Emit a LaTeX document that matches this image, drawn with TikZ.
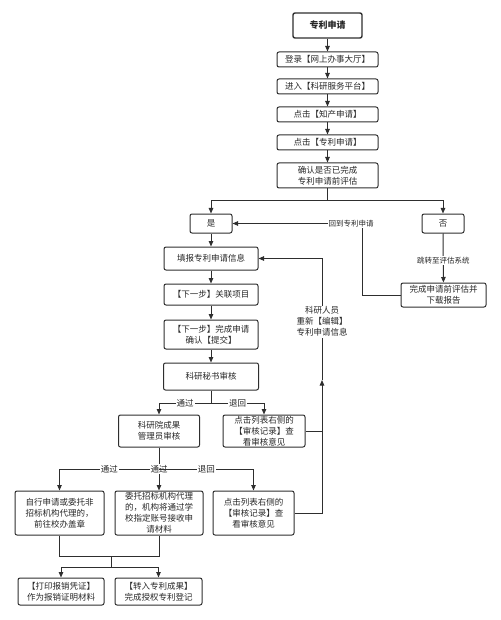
\documentclass[tikz,border=0pt]{standalone}
\usepackage{fontspec}
\setmainfont{Noto Sans CJK SC}
\usetikzlibrary{arrows.meta}

\tikzset{
	box/.style={draw=black!82, rounded corners=2pt, line width=1pt, text=black!85, align=center, inner sep=0pt, font=\fontsize{8.5}{11}\selectfont},
	tag/.style={fill=white, text=black!85, inner sep=1pt, font=\fontsize{7.5}{9}\selectfont},
	pass/.style={tag, font=\fontsize{8.5}{10}\selectfont},
	line/.style={draw=black!82, line width=1pt},
	flow/.style={line, -{Triangle[length=5.5pt, width=4.5pt]}},
}

\begin{document}
\begin{tikzpicture}[x=1pt, y=-1pt]
	\useasboundingbox (0,0) rectangle (500,620);
	\node (start) at (327.5,25.5) [box, line width=1.4pt, minimum width=69pt, minimum height=25pt, font=\fontsize{9}{11}\selectfont\bfseries] {专利申请};
	\node (login) at (327.5,59.5) [box, minimum width=101pt, minimum height=15pt] {登录【网上办事大厅】};
	\node (platform) at (327.5,86.5) [box, minimum width=101pt, minimum height=15pt] {进入【科研服务平台】};
	\node (ip) at (327.5,114.5) [box, minimum width=101pt, minimum height=15pt] {点击【知产申请】};
	\node (patent) at (327.5,142.5) [box, minimum width=101pt, minimum height=15pt] {点击【专利申请】};
	\node (check) at (327.5,175.5) [box, minimum width=101pt, minimum height=25pt] {确认是否已完成\\专利申请前评估};
		\node (yes) at (211,223.5) [box, minimum width=42pt, minimum height=19pt] {是};
		\node (no) at (443,223.5) [box, minimum width=42pt, minimum height=19pt] {否};
		\node (report) at (443.5,295) [box, minimum width=85pt, minimum height=24pt] {完成申请前评估并\\下载报告};
			\node (fill) at (211,258.5) [box, minimum width=94pt, minimum height=23pt] {填报专利申请信息};
			\node (link) at (211,294.5) [box, minimum width=94pt, minimum height=21pt] {【下一步】关联项目};
			\node (submit) at (211,334.5) [box, minimum width=94pt, minimum height=29pt] {【下一步】完成申请\\确认【提交】};
			\node (secretary) at (211,376.5) [box, minimum width=95pt, minimum height=27pt] {科研秘书审核};
				\node (admin) at (159,431) [box, minimum width=81pt, minimum height=32pt] {科研院成果\\管理员审核};
				\node (back1) at (264,431) [box, minimum width=82pt, minimum height=32pt] {点击列表右侧的\\【审核记录】查\\看审核意见};
					\node (self) at (59.5,513) [box, minimum width=89pt, minimum height=44pt] {自行申请或委托非\\招标机构代理的，\\前往校办盖章};
					\node (agency) at (159,513) [box, minimum width=88pt, minimum height=44pt] {委托招标机构代理\\的，机构将通过学\\校指定账号接收申\\请材料};
					\node (back2) at (253.5,513) [box, minimum width=81pt, minimum height=44pt] {点击列表右侧的\\【审核记录】查\\看审核意见};
						\node (print) at (61,591.5) [box, minimum width=86pt, minimum height=27pt] {【打印报销凭证】\\作为报销证明材料};
						\node (record) at (158.5,591.5) [box, minimum width=87pt, minimum height=27pt] {【转入专利成果】\\完成授权专利登记};
	% turning points
	\coordinate (fork1) at (327.5,201);
	\coordinate (fork2) at (211,403);
	\coordinate (fork3) at (159,469);
	\coordinate (b1) at (362,295);
	\coordinate (b2) at (362,223.5);
	\coordinate (r1) at (322,513);
	\coordinate (r0) at (322,380);
	\coordinate (r2) at (322,258.5);
	\coordinate (r3) at (322,431);
	\coordinate (m1) at (59.5,556);
	\coordinate (m2) at (159,556);
	\coordinate (m3) at (111,556);
	\coordinate (m4) at (111,567);
	\draw[flow] (start) -- (login);
	\draw[flow] (login) -- (platform);
	\draw[flow] (platform) -- (ip);
	\draw[flow] (ip) -- (patent);
	\draw[flow] (patent) -- (check);
	\draw[line] (check) -- (fork1);
	\draw[flow] (fork1) -| (yes);
	\draw[flow] (fork1) -| (no);
	\draw[flow] (no) -- node [tag, pos=0.55] {跳转至评估系统} (report);
	\draw[flow] (report) -- (b1) -- (b2) -- (yes);
	\node[tag] (backlabel) at (351,223.5) {回到专利申请};
	\draw[flow] (yes) -- (fill);
	\draw[flow] (fill) -- (link);
	\draw[flow] (link) -- (submit);
	\draw[flow] (submit) -- (secretary);
	\draw[line] (secretary) -- (fork2);
	\draw[flow] (fork2) -| node [pass, pos=0.25] {通过} (admin);
	\draw[flow] (fork2) -| node [pass, pos=0.25] {退回} (back1);
	\draw[line] (admin) -- (fork3);
	\draw[flow] (fork3) -| node [pass, pos=0.25] {通过} (self);
	\draw[flow] (fork3) to node [pass, pos=0] {通过} (agency);
	\draw[flow] (fork3) -| node [pass, pos=0.25] {退回} (back2);
	\draw[flow] (back2) -- (r1) -- (r0);
	\draw[line] (back1) -- (r3);
	\draw[flow] (r0) -- node [tag, align=center, pos=0.48, font=\fontsize{8.5}{11}\selectfont] {科研人员\\重新【编辑】\\专利申请信息} (r2) -- (fill);
	\draw[line] (self) -- (m1) -- (m2) -- (agency);
	\draw[line] (m3) -- (m4);
	\draw[flow] (m4) -| (print);
	\draw[flow] (m4) -| (record);
\end{tikzpicture}
\end{document}
